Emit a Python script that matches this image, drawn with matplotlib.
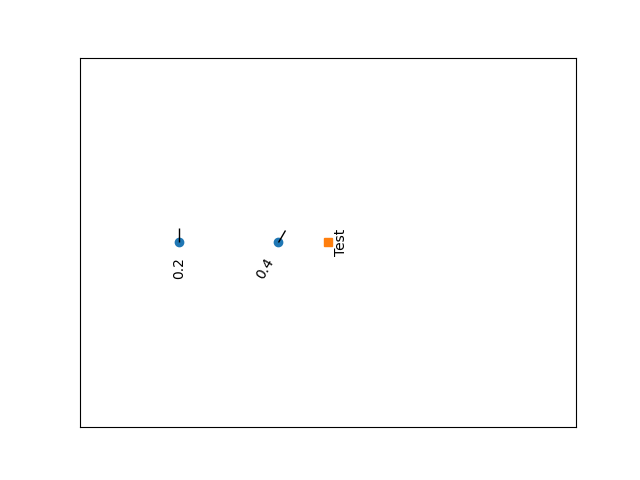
import matplotlib
matplotlib.use('Agg')
import matplotlib.pyplot as plt
from matplotlib.markers import MarkerStyle
from matplotlib.transforms import Affine2D

# point data
xs = [0.2, 0.4]
ys = [0.5, 0.5]
labels = ['0.2', '0.4']
label_rot = [90, 60]
tick_rot = [0, -30]

sq_x = [0.5]
sq_y = [0.5]
sq_label = 'Test'

fig, ax = plt.subplots(figsize=(6.4, 4.8), dpi=100)

ax.plot(xs, ys, 'o', color='C0', linestyle='none')
for x, y, a in zip(xs, ys, tick_rot):
    m = MarkerStyle(2, transform=Affine2D().rotate_deg(a))
    ax.plot([x], [y], marker=m, markersize=10, color='black', markeredgewidth=1, linestyle='none')

ax.plot(sq_x, sq_y, 's', color='C1', linestyle='none')

# labels under the points
ax.annotate(labels[0], (xs[0], ys[0]), xytext=(0, -10.5), textcoords='offset points',
            rotation=label_rot[0], ha='center', va='top')
ax.annotate(labels[1], (xs[1], ys[1]), xytext=(-1.5, -9.5), textcoords='offset points',
            rotation=label_rot[1], ha='right', va='top')
ax.annotate(sq_label, (sq_x[0], sq_y[0]), xytext=(4.5, 0), textcoords='offset points',
            rotation=90, ha='left', va='center')

ax.set_xlim(0, 1)
ax.set_ylim(0, 1)
ax.set_xticks([])
ax.set_yticks([])

plt.savefig('out.png', dpi=100)
